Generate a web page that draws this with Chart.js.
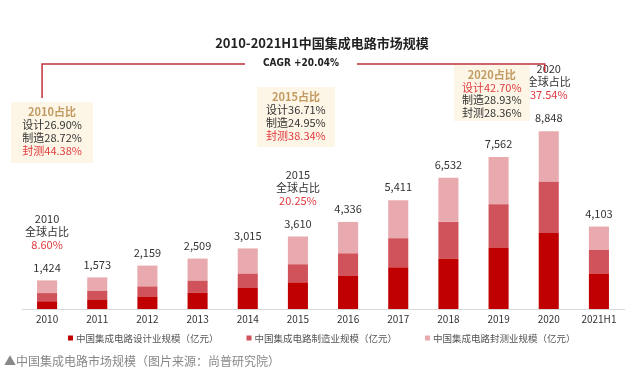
<!DOCTYPE html>
<html>
<head>
<meta charset="utf-8">
<script src="https://cdn.jsdelivr.net/npm/chart.js@4"></script>
<style>
  html, body { margin: 0; padding: 0; background: #fff; }
  #wrap { position: relative; width: 640px; height: 382px; }
</style>
</head>
<body>
<div id="wrap"><canvas id="chart" width="640" height="382"></canvas></div>
<script>
// 数据（亿元）
const years = ['2010', '2011', '2012', '2013', '2014', '2015', '2016', '2017', '2018', '2019', '2020', '2021H1'];
const designValues = [383, 474, 622, 809, 1047, 1325, 1644, 2074, 2519, 3064, 3778, 1766];
const manufacturingValues = [409, 432, 501, 601, 712, 901, 1127, 1448, 1818, 2149, 2560, 1172];
const packagingValues = [632, 667, 1036, 1099, 1256, 1384, 1564, 1890, 2194, 2350, 2510, 1165];
const totalLabels = ['1,424', '1,573', '2,159', '2,509', '3,015', '3,610', '4,336', '5,411', '6,532', '7,562', '8,848', '4,103'];

// 全球占比
const globalShareYears = ['2010', '2015', '2020'];
const globalShareValues = ['8.60%', '20.25%', '37.54%'];

// 结构占比（设计 / 制造 / 封测）
const shareBoxYears = ['2010', '2015', '2020'];
const shareDesign = ['26.90%', '36.71%', '42.70%'];
const shareManufacturing = ['28.72%', '24.95%', '28.93%'];
const sharePackaging = ['44.38%', '38.34%', '28.36%'];

const seriesNames = ['中国集成电路设计业规模（亿元）', '中国集成电路制造业规模（亿元）', '中国集成电路封测业规模（亿元）'];
const cagrText = 'CAGR +20.04%';
const titleText = '2010-2021H1中国集成电路市场规模';
const captionText = '▲中国集成电路市场规模（图片来源：尚普研究院）';

const RED = '#e0393e';
const GOLD = '#c19a62';
const DARK = '#333333';
const CJK = '"Noto Sans CJK SC", "Noto Sans", sans-serif';
const NUM = '"DejaVu Sans Condensed", "Liberation Sans Narrow", "Noto Sans CJK SC", sans-serif';

// 画多行文字
function drawLines(ctx, x, y, lines, lh) {
  lines.forEach((ln, i) => {
    ctx.fillStyle = ln.color;
    ctx.font = ln.font;
    ctx.fillText(ln.text, x, y + i * lh);
  });
}

const annotations = {
  id: 'annotations',
  afterDatasetsDraw(chart) {
    const ctx = chart.ctx;
    const xs = chart.scales.x;
    const top = chart.getDatasetMeta(2);
    ctx.save();
    ctx.textAlign = 'center';
    ctx.textBaseline = 'middle';

    // 标题
    ctx.fillStyle = '#222';
    ctx.font = 'bold 13px ' + CJK;
    ctx.fillText(titleText, 322, 43);

    // 柱顶总量
    ctx.font = '11px ' + CJK;
    ctx.fillStyle = DARK;
    top.data.forEach((bar, i) => {
      ctx.fillText(totalLabels[i], bar.x, bar.y - 13);
    });

    // 全球占比
    globalShareYears.forEach((yr, k) => {
      const bar = top.data[years.indexOf(yr)];
      drawLines(ctx, bar.x, bar.y - 62, [
        { text: yr, color: DARK, font: '11px ' + CJK },
        { text: '全球占比', color: DARK, font: '11px ' + CJK },
        { text: globalShareValues[k], color: RED, font: '11px ' + CJK }
      ], 13);
    });

    // 占比框
    const boxes = [
      { dx: 5, top: 102, w: 82, h: 61, redRow: 3 },
      { dx: -2, top: 87, w: 78, h: 60, redRow: 3 },
      { dx: -57, top: 65, w: 76, h: 56, redRow: 1 }
    ];
    shareBoxYears.forEach((yr, k) => {
      const cx = xs.getPixelForValue(years.indexOf(yr)) + boxes[k].dx;
      const b = boxes[k];
      ctx.fillStyle = '#fdf6e6';
      ctx.fillRect(cx - b.w / 2, b.top, b.w, b.h);
      const rows = [
        { text: yr + '占比', color: GOLD, font: 'bold 11px ' + CJK },
        { text: '设计' + shareDesign[k], color: DARK, font: '11px ' + CJK },
        { text: '制造' + shareManufacturing[k], color: DARK, font: '11px ' + CJK },
        { text: '封测' + sharePackaging[k], color: DARK, font: '11px ' + CJK }
      ];
      rows[b.redRow].color = RED;
      const lh = b.h > 58 ? 13 : 12.5;
      drawLines(ctx, cx, b.top + 10, rows, lh);
    });

    // CAGR 线
    const x0 = xs.getPixelForValue(0) - 5;
    const x1 = xs.getPixelForValue(years.indexOf('2020')) - 4;
    ctx.strokeStyle = '#c0323c';
    ctx.lineWidth = 1.5;
    ctx.beginPath();
    ctx.moveTo(x0, 98); ctx.lineTo(x0, 64); ctx.lineTo(245, 64);
    ctx.moveTo(357, 64); ctx.lineTo(x1, 64); ctx.lineTo(x1, 72);
    ctx.stroke();
    ctx.fillStyle = '#222';
    ctx.font = 'bold 10px ' + NUM;
    ctx.fillText(cagrText, 301, 63);

    // 图例（自己画，间距按原图）
    ctx.textAlign = 'left';
    ctx.font = '9.5px ' + CJK;
    chart.data.datasets.forEach((ds, i) => {
      const lx = 68 + i * 178.5;
      ctx.fillStyle = ds.backgroundColor;
      ctx.fillRect(lx, 335.5, 5, 5);
      ctx.fillStyle = '#555';
      ctx.fillText(ds.label, lx + 8, 338);
    });

    // 图片来源
    ctx.fillStyle = '#888';
    ctx.font = '12px ' + CJK;
    ctx.fillText(captionText, 4, 361);
    ctx.restore();
  }
};

new Chart(document.getElementById('chart'), {
  type: 'bar',
  data: {
    labels: years,
    datasets: [
      { label: seriesNames[0], data: designValues, backgroundColor: '#c00000' },
      { label: seriesNames[1], data: manufacturingValues, backgroundColor: '#d0525a' },
      { label: seriesNames[2], data: packagingValues, backgroundColor: '#e8aaae' }
    ]
  },
  options: {
    responsive: false,
    animation: false,
    events: [],
    layout: { padding: { left: 22, right: 16, top: 88, bottom: 53 } },
    datasets: { bar: { barPercentage: 0.4, categoryPercentage: 1.0 } },
    scales: {
      x: {
        stacked: true,
        grid: { display: false, drawTicks: false },
        border: { color: '#d8d8d8' },
        ticks: { color: '#333', font: { size: 10, family: CJK }, padding: 4 }
      },
      y: { stacked: true, display: false, min: 0, max: 11000 }
    },
    plugins: {
      legend: { display: false },
      tooltip: { enabled: false }
    }
  },
  plugins: [annotations]
});
</script>
</body>
</html>
